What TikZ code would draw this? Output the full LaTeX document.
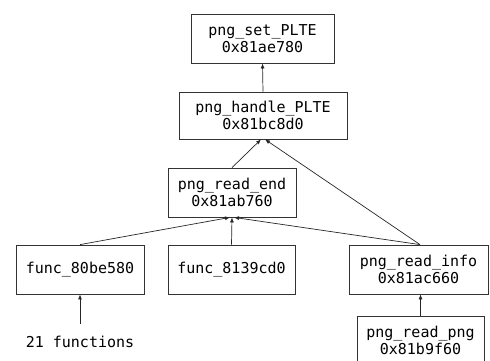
\documentclass[tikz,border=0pt]{standalone}
\usepackage{fontspec}
\setmonofont{DejaVu Sans Mono}
\usetikzlibrary{arrows.meta}
\begin{document}
\begin{tikzpicture}[x=1pt,y=-1pt,
  fn/.style={draw=black!80, line width=0.8pt, fill=white, align=center, inner sep=0pt,
     font=\ttfamily\fontsize{15pt}{17pt}\selectfont},
  call/.style={draw=black!85, line width=0.7pt, -{Latex[length=5pt,width=4pt]}}]
\useasboundingbox (0,0) rectangle (490,360);
\node[fn, minimum width=143pt, minimum height=49pt] (set) at (262.5,38.5) {png\_set\_PLTE\\0x81ae780};
\node[fn, minimum width=168pt, minimum height=47pt] (handle) at (263,115.5) {png\_handle\_PLTE\\0x81bc8d0};
\node[fn, minimum width=128pt, minimum height=49pt] (end) at (232,192.5) {png\_read\_end\\0x81ab760};
\node[fn, minimum width=128pt, minimum height=49pt] (f80) at (80,269.5) {func\_80be580};
\node[fn, minimum width=127pt, minimum height=49pt] (f81) at (231.5,269.5) {func\_8139cd0};
\node[fn, minimum width=139pt, minimum height=49pt] (info) at (418.5,269.5) {png\_read\_info\\0x81ac660};
\node[fn, minimum width=127pt, minimum height=49pt] (png) at (420.5,340.5) {png\_read\_png\\0x81b9f60};
\node[font=\ttfamily\fontsize{15pt}{17pt}\selectfont, inner sep=0pt] (n21) at (80,342) {21 functions};
\coordinate (n21top) at (80,324);
\draw[call] (handle.north) -- (set.south);
\draw[call] (end.north) -- ([xshift=-2pt]handle.south);
\draw[call] ([xshift=1.5pt]info.north) -- ([xshift=2pt]handle.south);
\draw[call] (f80.north) -- ([xshift=-2pt]end.south);
\draw[call] (f81.north) -- (end.south);
\draw[call] ([xshift=1.5pt]info.north) -- ([xshift=2pt]end.south);
\draw[call] (n21top) -- (f80.south);
\draw[call] (png.north) -- ([xshift=2pt]info.south);
\end{tikzpicture}
\end{document}
